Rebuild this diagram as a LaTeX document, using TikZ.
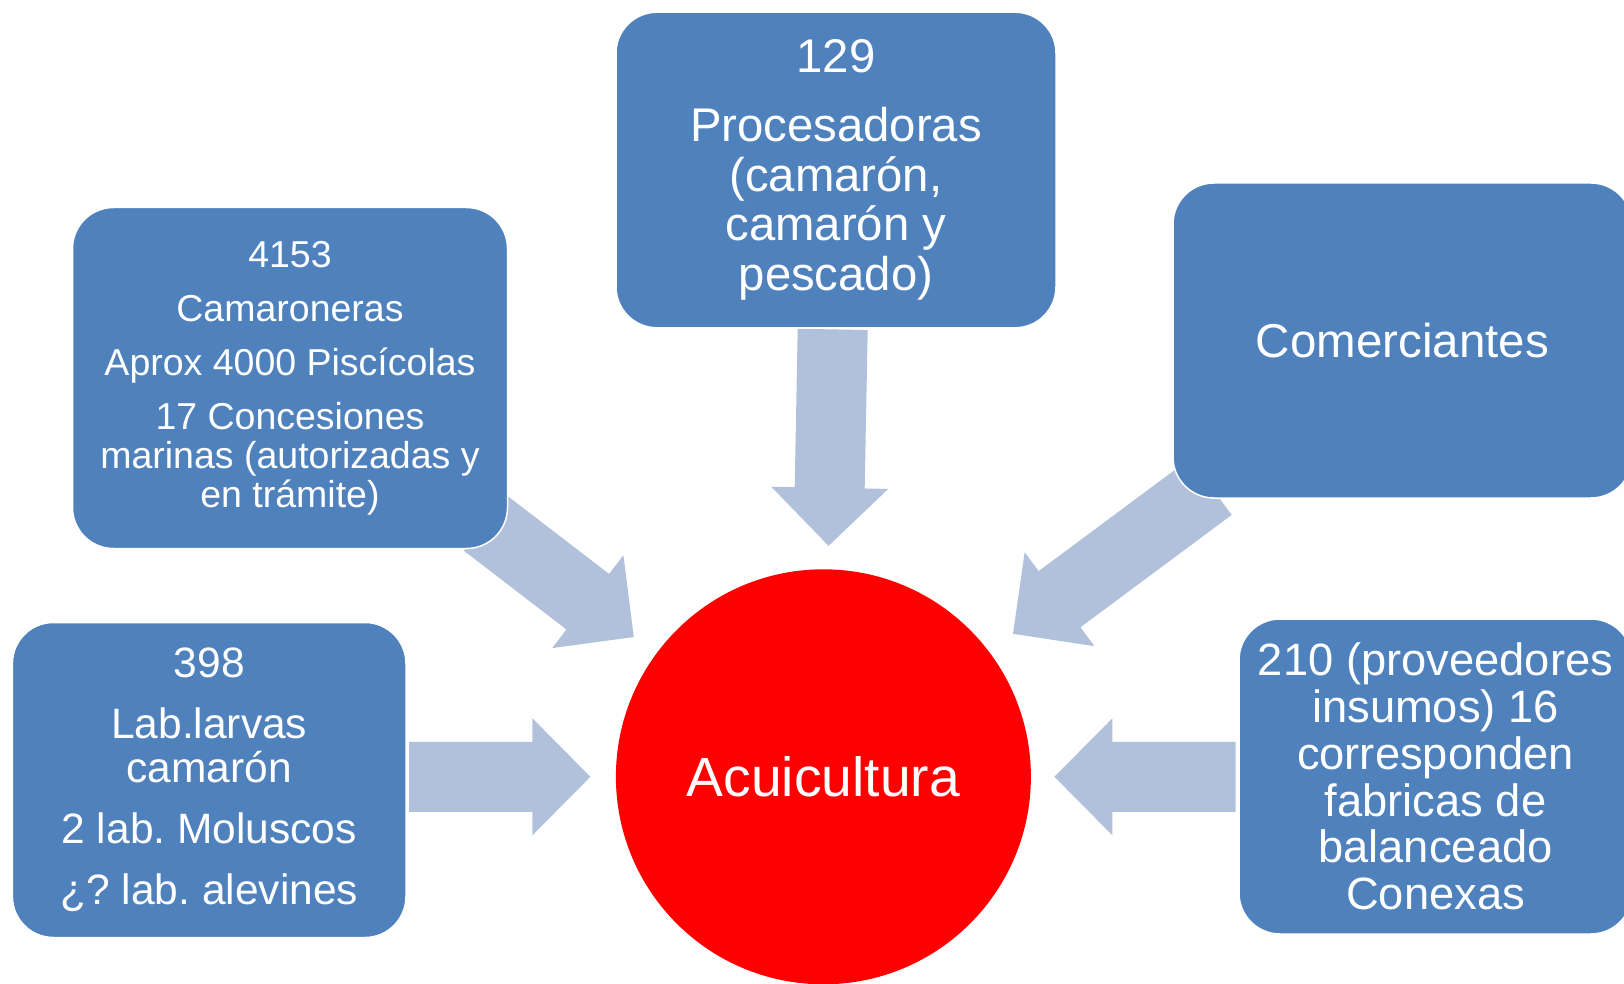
\documentclass[tikz,border=0pt]{standalone}
\usepackage{fontspec}
\setmainfont{Liberation Sans}
\frenchspacing
\usetikzlibrary{calc,backgrounds}
\definecolor{boxblue}{HTML}{4F81BD}
\definecolor{arrowc}{HTML}{B1C1DC}
\definecolor{circred}{HTML}{FF0000}
\newcommand\blockarr[2]{%
  \coordinate (#1h) at ($(#2)!29pt!(#1)$);
  \fill[arrowc] ($(#1)!17.5pt!90:(#2)$) -- ($(#1h)!17.5pt!90:(#2)$) -- ($(#1h)!29.25pt!90:(#2)$) -- (#2)
    -- ($(#1h)!29.25pt!-90:(#2)$) -- ($(#1h)!17.5pt!-90:(#2)$) -- ($(#1)!17.5pt!-90:(#2)$) -- cycle;}
\tikzset{
  box/.style={fill=boxblue, draw=white, line width=0.75pt, rounded corners=20.5pt,
    text=white, align=center, inner sep=0pt},
}
\begin{document}
\begin{tikzpicture}[x=0.5pt,y=-0.5pt]
\useasboundingbox (0,0) rectangle (1624,984);
\clip (0,0) rectangle (1624,984);
% boxes
\node[box, minimum width=217.5pt, minimum height=170.5pt,
  font=\fontsize{18.75pt}{19.5pt}\selectfont] (camar) at (290,378)
  {4153\\[7.5pt]Camaroneras\\[7.5pt]Aprox 4000 Piscícolas\\[7.5pt]17 Concesiones\\marinas (autorizadas y\\en trámite)};
\node[box, minimum width=220pt, minimum height=157.8pt,
  font=\fontsize{23.65pt}{24.85pt}\selectfont] (proc) at (836,170)
  {129\\[9.6pt]Procesadoras\\(camarón,\\camarón y\\pescado)};
\node[box, minimum width=229.5pt, minimum height=157.5pt,
  font=\fontsize{23.75pt}{24.85pt}\selectfont] (comer) at (1402.5,340.5)
  {Comerciantes};
\node[box, minimum width=196.8pt, minimum height=157.5pt,
  font=\fontsize{21.25pt}{21.75pt}\selectfont] (lab) at (209.2,780)
  {398\\[8.75pt]Lab.larvas\\camarón\\[8.75pt]2 lab. Moluscos\\[8.75pt]¿? lab. alevines};
\node[box, minimum width=196.5pt, minimum height=157.5pt,
  font=\fontsize{22.65pt}{23.4pt}\selectfont] (prov) at (1435.5,776.5)
  {210 (proveedores\\insumos) 16\\corresponden\\fabricas de\\balanceado\\Conexas};
\node[circle, fill=circred, minimum size=207.5pt, inner sep=0pt, text=white,
  font=\fontsize{27.6pt}{30pt}\selectfont] (acui) at (823.4,776.8) {Acuicultura};
% arrow anchor points
\coordinate (sP) at (832.7,329.4);  \coordinate (tP) at (828.6,545.8);
\coordinate (sC) at (485.2,523);    \coordinate (tC) at (633.8,637);
\coordinate (sM) at (1210.8,486.8); \coordinate (tM) at (1013,633.8);
\coordinate (sL) at (409,776.8);    \coordinate (tL) at (590.4,776.8);
\coordinate (sR) at (1235.6,776.8); \coordinate (tR) at (1054.4,776.8);
\begin{pgfonlayer}{background}
\fill[white] (0,0) rectangle (1624,984);
\blockarr{sP}{tP}
\blockarr{sC}{tC}
\blockarr{sM}{tM}
\blockarr{sL}{tL}
\blockarr{sR}{tR}
\end{pgfonlayer}
\end{tikzpicture}
\end{document}
